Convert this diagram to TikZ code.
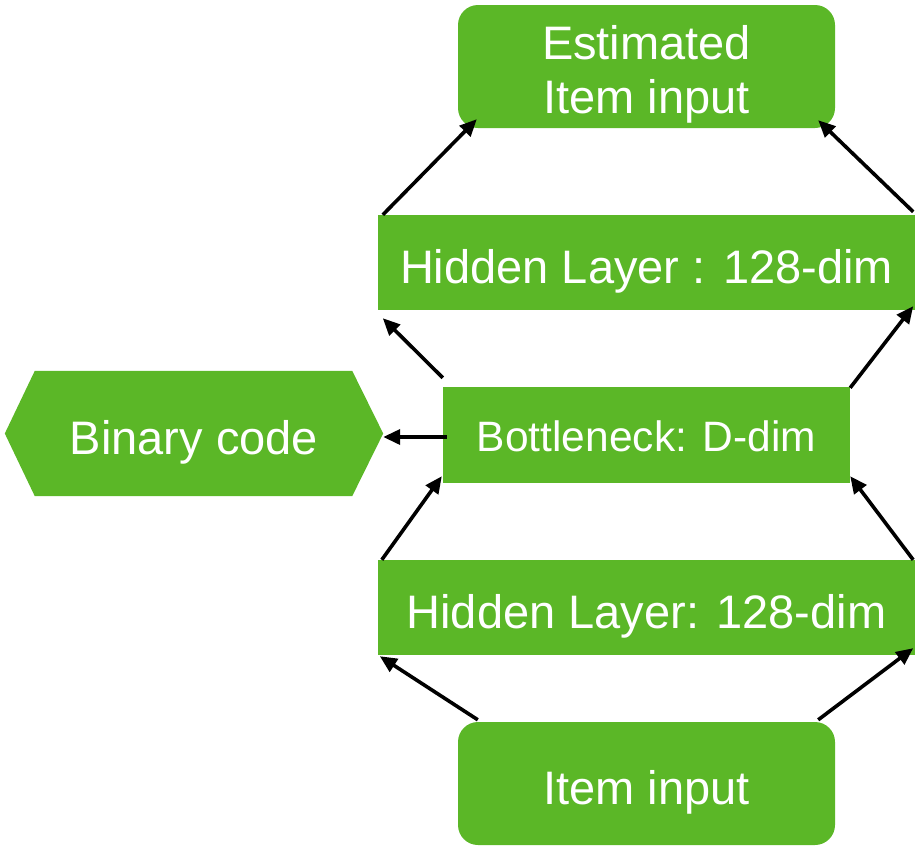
\documentclass[tikz,border=0pt]{standalone}
\usepackage{fontspec}
\setmainfont{Liberation Sans}
\usetikzlibrary{calc,arrows.meta,backgrounds}
\definecolor{layergreen}{RGB}{91,183,39}
\tikzset{
  layer/.style={fill=layergreen, text=white, inner sep=0pt, align=center,
    font=\fontsize{47}{54}\selectfont, text height=45pt, text depth=4pt},
  roundbox/.style={layer, rounded corners=20pt, minimum width=377pt, minimum height=123pt},
  widebox/.style={layer, minimum width=537pt, minimum height=95pt},
  flow/.style={line width=3.6pt, -{Triangle[length=17pt,width=15pt]}}
}
\begin{document}
\begin{tikzpicture}[x=1pt,y=-1pt]
\useasboundingbox (0,0) rectangle (915,846);

% layers of the autoencoder
\node[roundbox, text height=97pt, text depth=4pt] (est) at (646.5,66.5) {Estimated\\Item input};
\node[widebox] (hidtop) at (646.5,262.5) {Hidden Layer : 128-dim};
\node[layer, minimum width=407pt, minimum height=96pt,
      font=\fontsize{42.5}{48}\selectfont, text height=38pt, text depth=4.6pt] (bot) at (646.5,435) {Bottleneck: D-dim};
\node[widebox] (hidlow) at (646.5,607.5) {Hidden Layer: 128-dim};
\node[roundbox] (inp) at (646.5,783.5) {Item input};

% hexagonal output for the code
\node[text=white, inner sep=0pt, minimum width=378pt, minimum height=125pt,
      font=\fontsize{47}{54}\selectfont, text height=45pt, text depth=4pt] (bin) at (194,433.5) {Binary code};
\begin{scope}[on background layer]
\fill[layergreen] (bin.west) -- ($(bin.north west)+(30,0)$) -- ($(bin.north east)+(-31,0)$)
  -- (bin.east) -- ($(bin.south east)+(-31,0)$) -- ($(bin.south west)+(30,0)$) -- cycle;
\end{scope}

% connections
\draw[flow] ($(inp.north west)+(20,-2)$) -- ($(hidlow.south west)+(2,1)$);
\draw[flow] ($(inp.north east)+(-17,-2)$) -- ($(hidlow.south east)+(-2,-7)$);
\draw[flow] ($(hidlow.north west)+(4,0)$) -- ($(bot.south west)+(-1,-7)$);
\draw[flow] ($(hidlow.north east)+(-2,0)$) -- ($(bot.south east)+(0,-7)$);
\draw[flow] ($(bot.north west)+(0,-9)$) -- ($(hidtop.south west)+(5,8)$);
\draw[flow] ($(bot.north east)+(0,1)$) -- ($(hidtop.south east)+(-2,-4)$);
\draw[flow] ($(hidtop.north west)+(5,0)$) -- ($(est.south west)+(19,-9)$);
\draw[flow] ($(hidtop.north east)+(-2,-3)$) -- ($(est.south east)+(-17,-8)$);
\draw[flow] ($(bot.west)+(4,2)$) -- ($(bin.east)+(0,3.5)$);
\end{tikzpicture}
\end{document}
